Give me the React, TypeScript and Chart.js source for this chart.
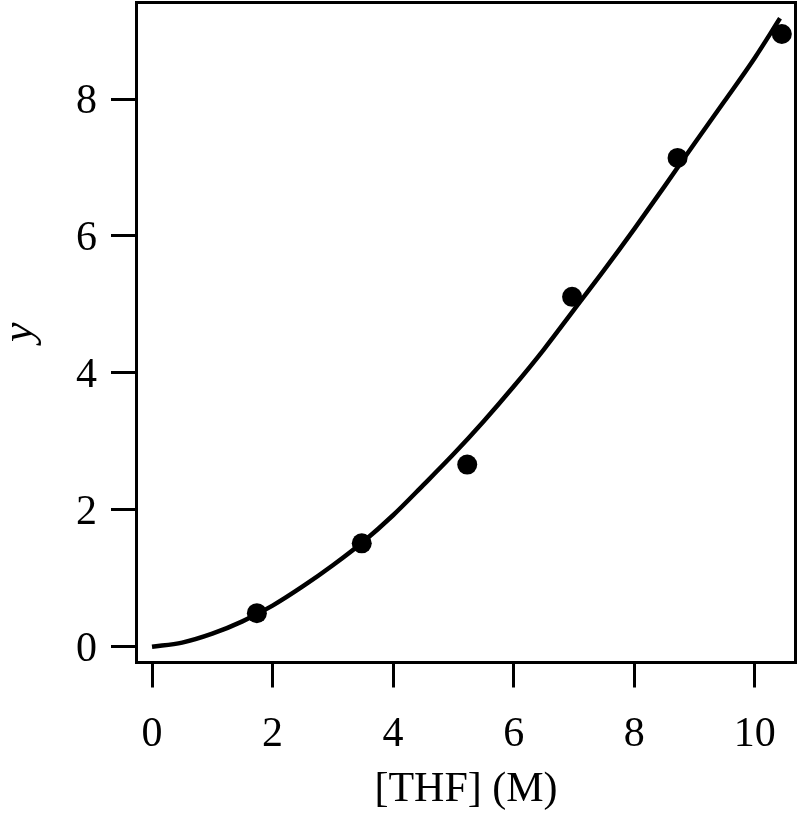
import { useEffect, useRef } from 'react';
import { Chart, registerables } from 'chart.js';

Chart.register(...registerables);

// Measured data points
const pointX = [1.74, 3.48, 5.23, 6.97, 8.72, 10.45];
const pointY = [0.49, 1.51, 2.66, 5.11, 7.14, 8.95];

// Fitted curve
const fitX = [0, 0.5, 1, 1.5, 2, 2.5, 3, 3.5, 4, 4.5, 5, 5.5, 6, 6.5, 7, 7.5, 8, 8.5, 9, 9.5, 10, 10.42];
const fitY = [0, 0.06, 0.19, 0.37, 0.6, 0.88, 1.19, 1.53, 1.92, 2.36, 2.81, 3.29, 3.8, 4.34, 4.92, 5.5, 6.1, 6.72, 7.35, 7.97, 8.6, 9.18];

const xTicks = [0, 2, 4, 6, 8, 10];
const yTicks = [0, 2, 4, 6, 8];
const xLabel = '[THF] (M)';
const yLabel = 'y';

const X_MIN = -0.2655;
const X_MAX = 10.685;
const Y_MIN = -0.2308;
const Y_MAX = 9.417;

const FONT = "'Liberation Serif', 'Times New Roman', serif";

const framePlugin = {
  id: 'frame',
  afterDraw(chart: any) {
    const { ctx, chartArea } = chart;
    const l = Math.floor(chartArea.left) + 0.5;
    const t = Math.floor(chartArea.top) + 0.5;
    const r = Math.ceil(chartArea.right) - 0.5;
    const b = Math.floor(chartArea.bottom) + 0.5;
    ctx.save();
    ctx.strokeStyle = '#000';
    ctx.lineWidth = 3;
    ctx.lineJoin = 'miter';
    ctx.strokeRect(l, t, r - l, b - t);
    ctx.restore();
  },
};

export default function App() {
  const ref = useRef<HTMLCanvasElement | null>(null);

  useEffect(() => {
    if (!ref.current) return;
    const chart = new Chart(ref.current, {
      type: 'scatter',
      data: {
        datasets: [
          {
            label: 'fit',
            data: fitX.map((x, i) => ({ x, y: fitY[i] })),
            showLine: true,
            borderColor: '#000',
            borderWidth: 4.5,
            pointRadius: 0,
            cubicInterpolationMode: 'monotone',
            fill: false,
            order: 2,
          } as any,
          {
            label: 'data',
            data: pointX.map((x, i) => ({ x, y: pointY[i] })),
            showLine: false,
            backgroundColor: '#000',
            borderColor: '#000',
            borderWidth: 0,
            pointRadius: 10,
            order: 1,
          } as any,
        ],
      },
      options: {
        animation: false,
        responsive: false,
        devicePixelRatio: 1,
        layout: { autoPadding: false, padding: { top: 2, right: 4, left: 0, bottom: 0 } },
        plugins: {
          legend: { display: false },
          tooltip: { enabled: false },
        },
        scales: {
          x: {
            type: 'linear',
            position: 'bottom',
            min: X_MIN,
            max: X_MAX,
            afterBuildTicks: (s: any) => {
              s.ticks = xTicks.map((v) => ({ value: v }));
            },
            afterFit: (s: any) => {
              s.height = 157.5;
              s.paddingLeft = 0;
              s.paddingRight = 0;
            },
            grid: {
              display: true,
              drawOnChartArea: false,
              drawTicks: true,
              tickLength: 25,
              tickWidth: 3,
              tickColor: '#000',
            },
            border: { display: true, width: 3, color: '#000' },
            ticks: {
              color: '#000',
              font: { family: FONT, size: 42 },
              padding: 22,
              maxRotation: 0,
              autoSkip: false,
            },
            title: {
              display: true,
              text: xLabel,
              color: '#000',
              font: { family: FONT, size: 42 },
              padding: { top: 0, bottom: 5 },
            },
          },
          y: {
            type: 'linear',
            position: 'left',
            min: Y_MIN,
            max: Y_MAX,
            afterBuildTicks: (s: any) => {
              s.ticks = yTicks.map((v) => ({ value: v }));
            },
            afterFit: (s: any) => {
              s.width = 136;
              s.paddingTop = 0;
              s.paddingBottom = 0;
            },
            grid: {
              display: true,
              drawOnChartArea: false,
              drawTicks: true,
              tickLength: 25,
              tickWidth: 3,
              tickColor: '#000',
            },
            border: { display: true, width: 3, color: '#000' },
            ticks: {
              color: '#000',
              font: { family: FONT, size: 42 },
              padding: 14,
              labelOffset: 3,
              autoSkip: false,
            },
            title: {
              display: true,
              text: yLabel,
              color: '#000',
              font: { family: FONT, size: 44, style: 'italic', lineHeight: 1 },
              padding: { top: -2, bottom: 0 },
            },
          },
        },
      },
      plugins: [framePlugin],
    });
    return () => chart.destroy();
  }, []);

  return (
    <div style={{ position: 'fixed', left: 0, top: 0, width: 800, height: 820, background: '#fff' }}>
      <canvas ref={ref} width={800} height={820} style={{ width: 800, height: 820, display: 'block' }} />
    </div>
  );
}
